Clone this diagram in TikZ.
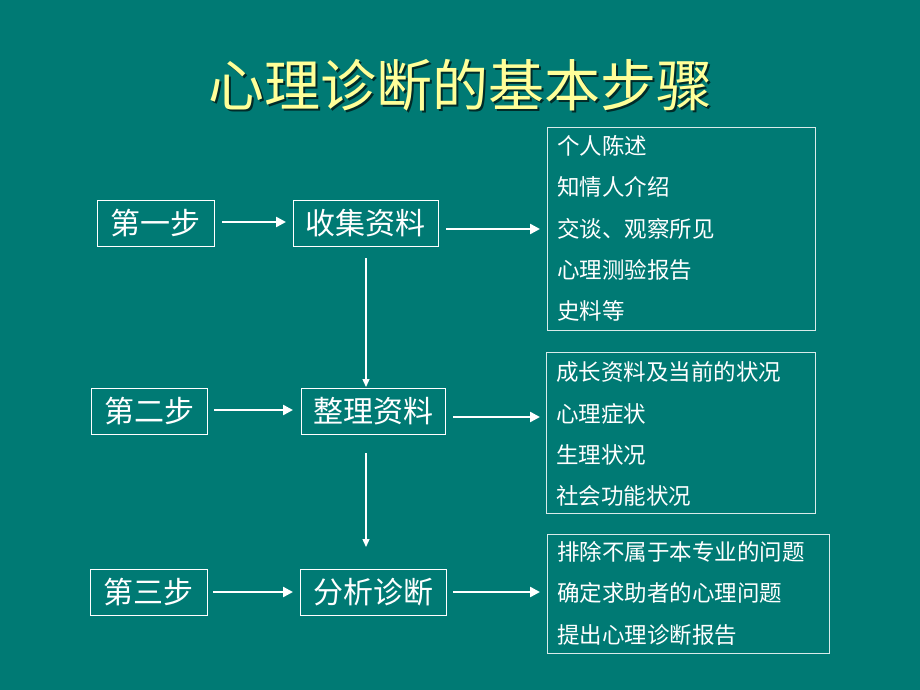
\documentclass[tikz,border=0pt]{standalone}
\usepackage{fontspec}
\newfontfamily\cjk{Noto Sans CJK SC}
\usetikzlibrary{arrows.meta}
\definecolor{bgteal}{RGB}{0,122,116}
\definecolor{titleyellow}{RGB}{255,255,153}
\tikzset{
  stepbox/.style={draw=white, line width=0.9pt, text=white, font=\cjk\fontsize{30}{30}\selectfont, minimum height=46pt, inner sep=0pt, anchor=north west},
  listbox/.style={draw=white!85!bgteal, line width=0.9pt},
  listtxt/.style={text=white, font=\cjk\fontsize{22.5}{22.5}\selectfont, anchor=west, inner sep=0pt},
  flow/.style={draw=white, line width=2.4pt, -{Triangle[length=10pt,width=10pt]}},
  vflow/.style={draw=white, line width=1.3pt, -{Triangle[length=8pt,width=7pt]}}
}
\begin{document}
\begin{tikzpicture}[x=1pt,y=-1pt]
\fill[bgteal] (0,0) rectangle (920,690);
\useasboundingbox (0,0) rectangle (920,690);
% title
\node[text=black!65!bgteal, font=\cjk\fontsize{56}{56}\selectfont] (titleshadow) at (462,87) {心理诊断的基本步骤};
\node[text=titleyellow, font=\cjk\fontsize{56}{56}\selectfont] (title) at (460,85) {心理诊断的基本步骤};
% step boxes
\node[stepbox, minimum width=117pt] (s1) at (97,200) {第一步};
\node[stepbox, minimum width=145pt] (c1) at (293,200) {收集资料};
\node[stepbox, minimum width=116pt] (s2) at (91,388) {第二步};
\node[stepbox, minimum width=144pt] (c2) at (301,388) {整理资料};
\node[stepbox, minimum width=117pt] (s3) at (90,569) {第三步};
\node[stepbox, minimum width=146pt] (c3) at (300,569) {分析诊断};
% list boxes
\node[listbox, minimum width=268pt, minimum height=203pt, anchor=north west] (l1) at (547,127) {};
\node[listbox, minimum width=269pt, minimum height=161pt, anchor=north west] (l2) at (546,352) {};
\node[listbox, minimum width=282pt, minimum height=119pt, anchor=north west] (l3) at (547,534) {};
% list texts
\node[listtxt] (t11) at (557,146) {个人陈述};
\node[listtxt] (t12) at (557,187) {知情人介绍};
\node[listtxt] (t13) at (557,229) {交谈、观察所见};
\node[listtxt] (t14) at (557,270) {心理测验报告};
\node[listtxt] (t15) at (557,311) {史料等};
\node[listtxt] (t21) at (556,372) {成长资料及当前的状况};
\node[listtxt] (t22) at (556,414) {心理症状};
\node[listtxt] (t23) at (556,455) {生理状况};
\node[listtxt] (t24) at (556,496) {社会功能状况};
\node[listtxt] (t31) at (557,552) {排除不属于本专业的问题};
\node[listtxt] (t32) at (557,593) {确定求助者的心理问题};
\node[listtxt] (t33) at (557,635) {提出心理诊断报告};
% horizontal arrows
\coordinate (a1s) at (222,222); \coordinate (a1e) at (286,222);
\draw[flow] (a1s) -- (a1e);
\coordinate (b1s) at (446,229); \coordinate (b1e) at (540,229);
\draw[flow] (b1s) -- (b1e);
\coordinate (a2s) at (214,410); \coordinate (a2e) at (293,410);
\draw[flow] (a2s) -- (a2e);
\coordinate (b2s) at (453,417); \coordinate (b2e) at (540,417);
\draw[flow] (b2s) -- (b2e);
\coordinate (a3s) at (213,592); \coordinate (a3e) at (293,592);
\draw[flow] (a3s) -- (a3e);
\coordinate (b3s) at (453,592); \coordinate (b3e) at (540,592);
\draw[flow] (b3s) -- (b3e);
% vertical arrows
\coordinate (v1s) at (366,258); \coordinate (v1e) at (366,387);
\draw[vflow] (v1s) -- (v1e);
\coordinate (v2s) at (366,453); \coordinate (v2e) at (366,547);
\draw[vflow] (v2s) -- (v2e);
\end{tikzpicture}
\end{document}
